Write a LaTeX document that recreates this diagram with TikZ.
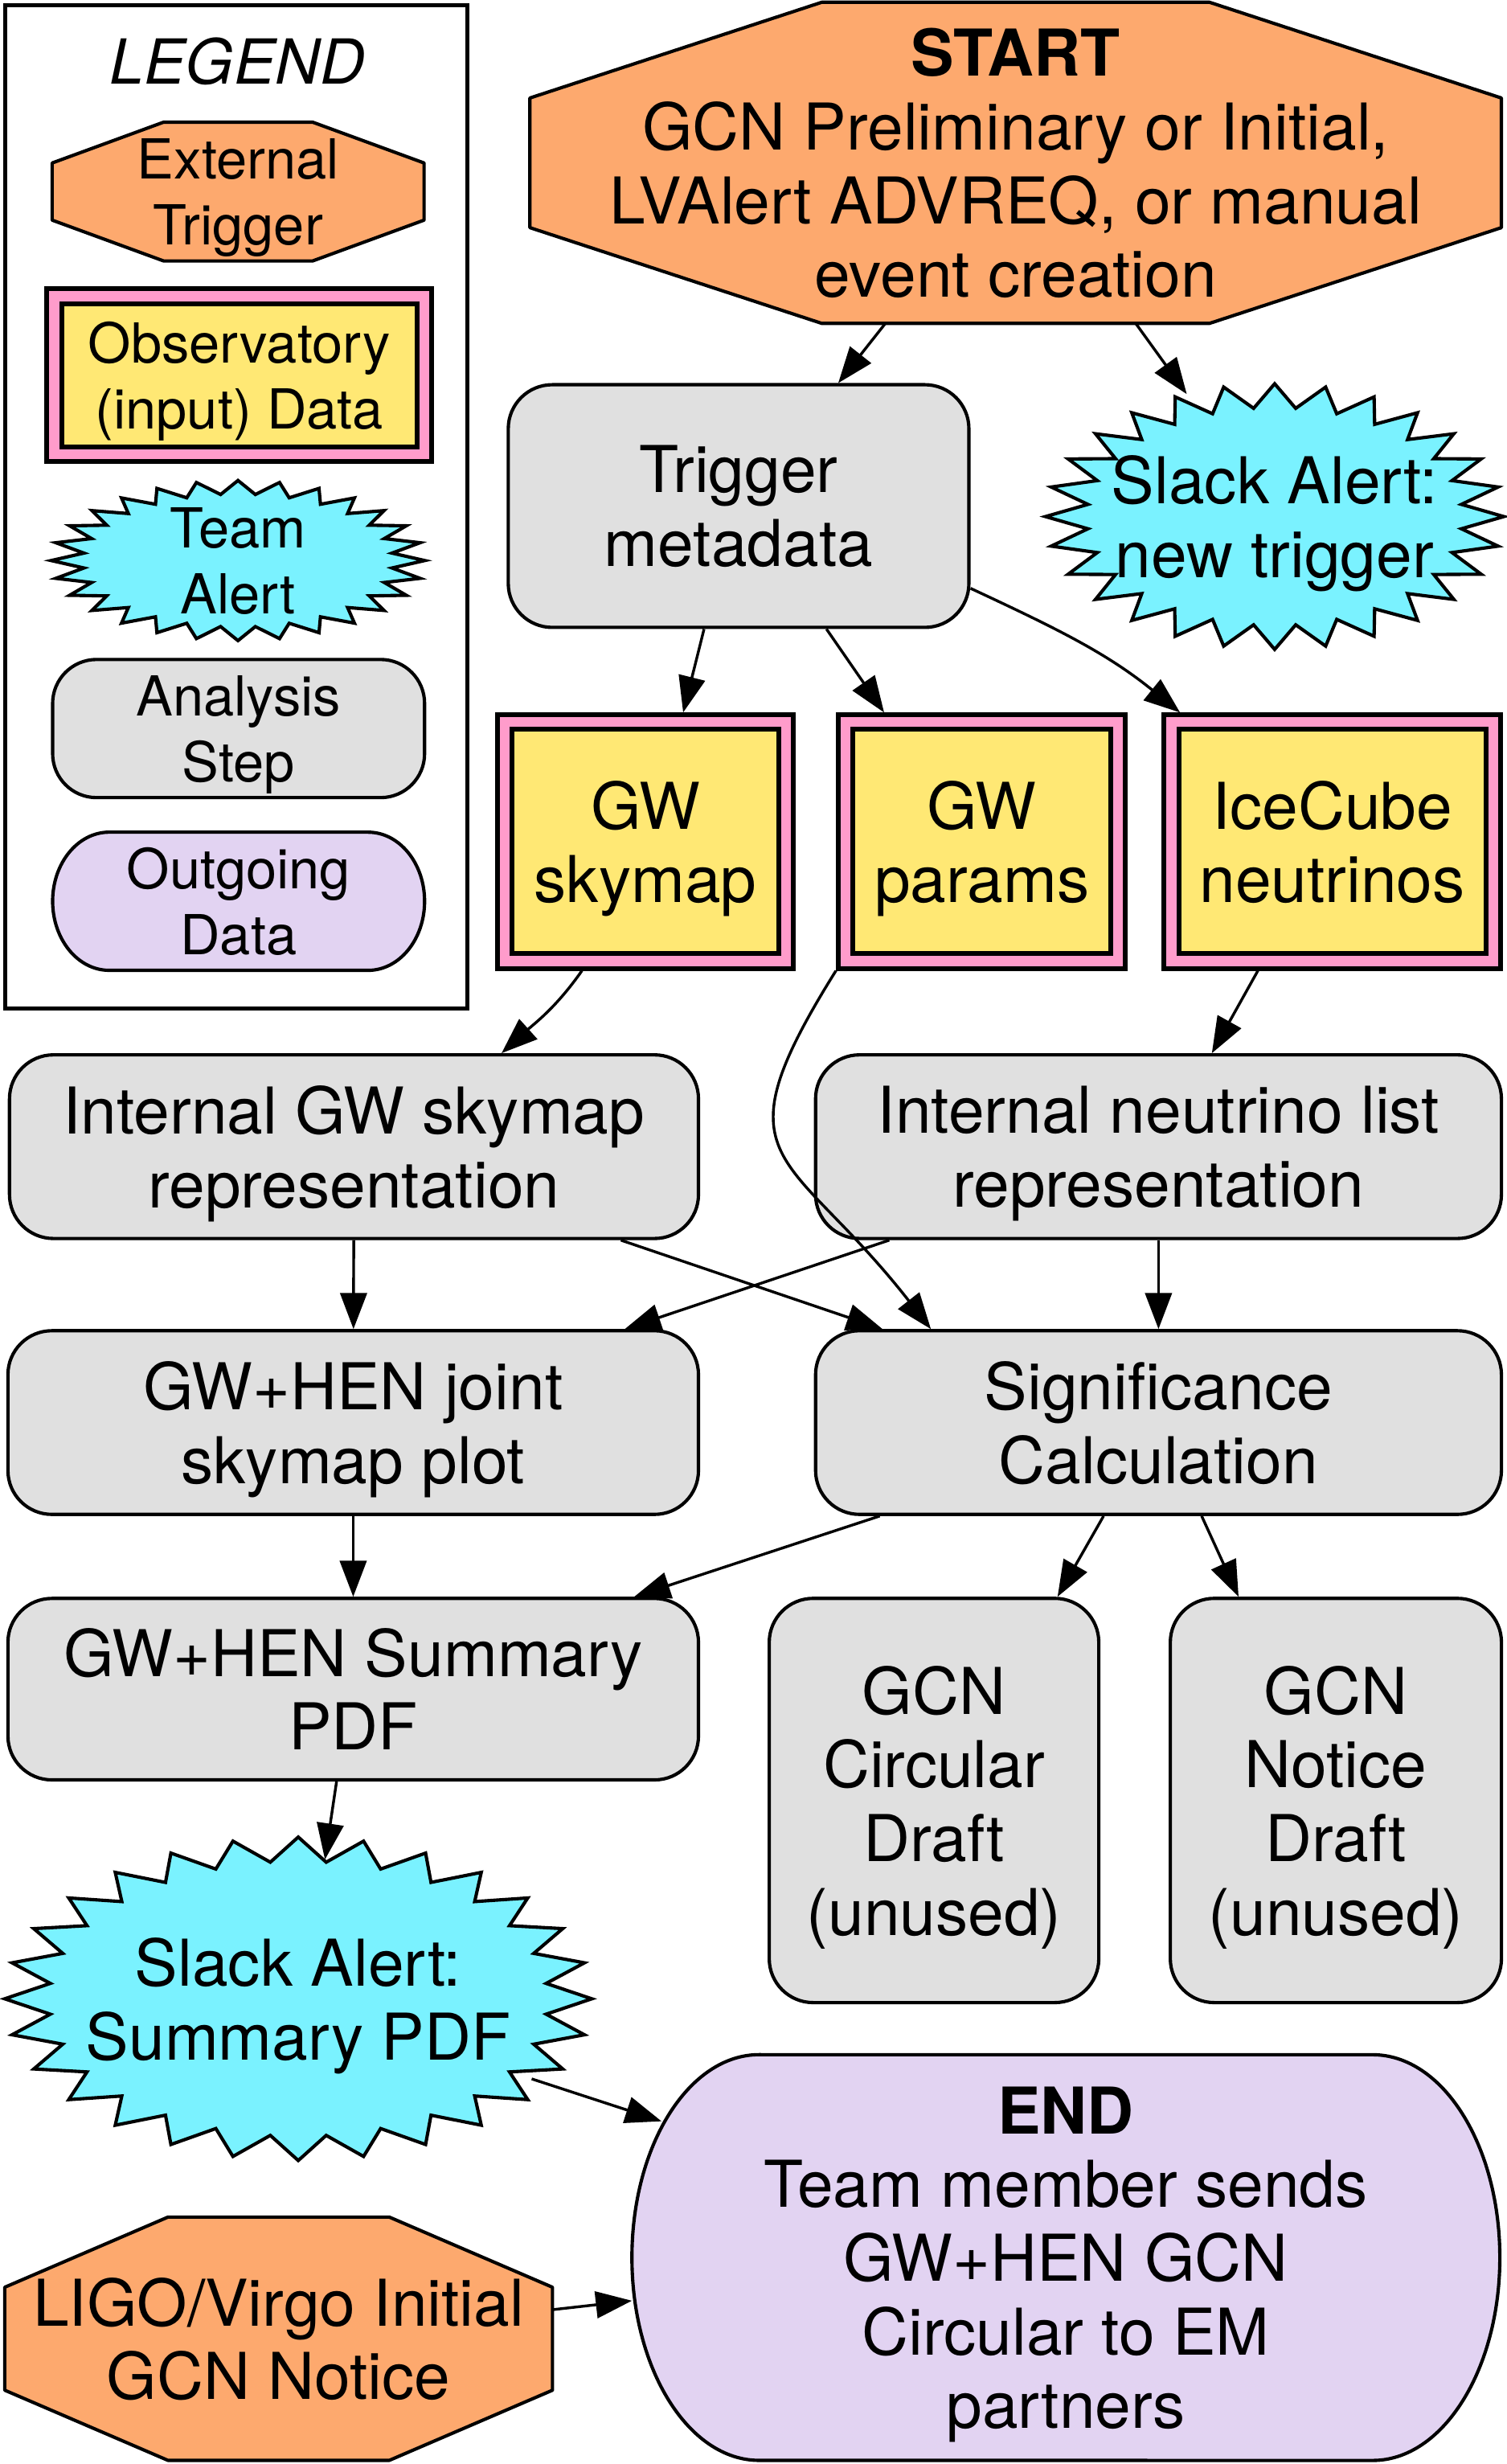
\documentclass[tikz,border=0pt]{standalone}
\usepackage{fontspec}
\setmainfont{TeX Gyre Heros}
\usepackage{tikz}
\usetikzlibrary{calc,positioning,arrows.meta,backgrounds}
\definecolor{trigorange}{HTML}{FDA96E}
\definecolor{obsyellow}{HTML}{FFE874}
\definecolor{obspink}{HTML}{FF9CCB}
\definecolor{alertcyan}{HTML}{7AF2FF}
\definecolor{stepgray}{HTML}{E0E0E0}
\definecolor{outlilac}{HTML}{E2D3F2}
% octagon behind a node: name, chamfer x, chamfer y
\newcommand{\octbg}[3]{%
  \path[trigshape] ($(#1.north west)+(#2,0)$) -- ($(#1.north east)+(-#2,0)$)
    -- ($(#1.north east)+(0,-#3)$) -- ($(#1.south east)+(0,#3)$)
    -- ($(#1.south east)+(-#2,0)$) -- ($(#1.south west)+(#2,0)$)
    -- ($(#1.south west)+(0,#3)$) -- ($(#1.north west)+(0,-#3)$) -- cycle;}
% burst behind a node: name, x radius, y radius, inner ratio
\newcommand{\burstbg}[4]{%
  \path[alertshape] ($(#1.center)+(90:#2 and #3)$)
    \foreach \k in {1,...,28} {
      -- ($(#1.center)+({90+(\k-0.5)*360/28}:{#4*#2} and {#4*#3})$)
      -- ($(#1.center)+({90+\k*360/28}:#2 and #3)$)
    } -- cycle;}
% pill behind a node: name, end x radius, end y radius
\newcommand{\pillbg}[3]{%
  \path[outshape] ($(#1.north west)+(#2,0)$) -- ($(#1.north east)+(-#2,0)$)
    arc[start angle=90,end angle=-90,x radius={#2*0.02cm},y radius={#3*0.02cm}]
    -- ($(#1.south west)+(#2,0)$)
    arc[start angle=270,end angle=90,x radius={#2*0.02cm},y radius={#3*0.02cm}]
    -- cycle;}
\begin{document}
\begin{tikzpicture}[
  x=0.02cm, y=0.02cm,
  every node/.style={align=center,inner sep=0pt,text depth=0pt,
   font=\fontsize{23.4}{26.7}\selectfont},
  small/.style={font=\fontsize{20}{23.9}\selectfont},
  trigger/.style={outer sep=0pt},
  trigshape/.style={draw,fill=trigorange,line width=1.2pt,line join=round},
  obsdata/.style={draw,fill=obsyellow,double=obspink,double distance=0.126cm,
   line width=1.75pt,outer sep=0.123cm},
  teamalert/.style={outer sep=0pt},
  alertshape/.style={draw,fill=alertcyan,line width=1.2pt},
  analysis/.style={draw,fill=stepgray,line width=1.2pt,rounded corners=0.56cm},
  outdata/.style={outer sep=0pt},
  outshape/.style={draw,fill=outlilac,line width=1.2pt},
  flow/.style={-{Triangle[length=4.6mm,width=3.4mm]},line width=1pt}
  ]
  \useasboundingbox (0,0) rectangle (960,-1569.3);

  % legend
  \node[draw,line width=1.5pt,minimum width=5.886cm,minimum height=12.78cm] (legend) at (150.55,-322.8) {};
  \node[font=\fontsize{22.5}{26}\selectfont] (lgtitle) at (151.2,-38.7) {\textit{LEGEND}};
  \node[trigger,small,minimum width=4.74cm,minimum height=1.768cm] (lgext) at (151.7,-122) {External\\Trigger};
  \node[obsdata,small,minimum width=4.714cm,minimum height=2.014cm] (lgobs) at (152.4,-239) {Observatory\\(input) Data};
  \node[teamalert,small] (lgalert) at (151.6,-357) {Team\\Alert};
  \node[analysis,small,minimum width=4.74cm,minimum height=1.76cm] (lgstep) at (152,-464) {Analysis\\Step};
  \node[outdata,small,minimum width=4.74cm,minimum height=1.76cm] (lgout) at (152,-574) {Outgoing\\Data};

  % flow
  \node[trigger,minimum width=12.38cm,minimum height=4.092cm] (start) at (647,-103.7)
   {\textbf{START}\\GCN Preliminary or Initial,\\LVAlert ADVREQ, or manual\\event creation};
  \node[analysis,minimum width=5.87cm,minimum height=3.092cm] (trig) at (470.5,-322.3) {Trigger\\metadata};
  \node[teamalert] (slackA) at (812,-329) {Slack Alert:\\new trigger};

  \node[obsdata,minimum width=3.584cm,minimum height=3.044cm] (sky) at (411.2,-536) {GW\\skymap};
  \node[obsdata,minimum width=3.474cm,minimum height=3.044cm] (par) at (625.5,-536) {GW\\params};
  \node[obsdata,minimum width=4.102cm,minimum height=3.044cm] (ice) at (848.7,-536) {IceCube\\neutrinos};

  \node[analysis,minimum width=8.78cm,minimum height=2.34cm] (intsky) at (225.5,-730.3) {Internal GW skymap\\representation};
  \node[analysis,minimum width=8.74cm,minimum height=2.34cm] (intnu) at (738,-730.3) {Internal neutrino list\\representation};
  \node[analysis,minimum width=8.8cm,minimum height=2.34cm] (joint) at (225,-906) {GW+HEN joint\\skymap plot};
  \node[analysis,minimum width=8.74cm,minimum height=2.34cm] (sig) at (738,-906) {Significance\\Calculation};
  \node[analysis,minimum width=8.8cm,minimum height=2.312cm] (pdf) at (225,-1075.8) {GW+HEN Summary\\PDF};
  \node[analysis,minimum width=4.2cm,minimum height=5.15cm] (circ) at (595,-1146.7) {GCN\\Circular\\Draft\\(unused)};
  \node[analysis,minimum width=4.22cm,minimum height=5.15cm] (notice) at (851,-1146.7) {GCN\\Notice\\Draft\\(unused)};

  \node[teamalert] (slackB) at (190,-1273) {Slack Alert:\\Summary PDF};
  \node[outdata,minimum width=11.06cm,minimum height=5.168cm] (finish) at (679,-1437.8)
   {\textbf{END}\\Team member sends\\GW+HEN GCN\\Circular to EM\\partners};
  \node[trigger,minimum width=6.98cm,minimum height=3.1cm] (ligo) at (177.5,-1489.5) {LIGO/Virgo Initial\\GCN Notice};

  \begin{scope}[on background layer]
   \octbg{lgext}{71}{26}
   \octbg{start}{186}{61}
   \octbg{ligo}{104}{44.7}
   \burstbg{lgalert}{119}{51}{0.83}
   \burstbg{slackA}{146}{84.6}{0.82}
   \burstbg{slackB}{187}{103}{0.85}
   \pillbg{lgout}{36}{44}
   \pillbg{finish}{81}{129.2}
  \end{scope}

  \draw[flow] ($(start.south)+(-83,0)$) -- ($(trig.north)+(63.5,0)$);
  \draw[flow] ($(start.south)+(76.5,0)$) -- ($(slackA.center)+(-56,78)$);
  \draw[flow] ($(trig.south)+(-22,0)$) -- ($(sky.north)+(24,0)$);
  \draw[flow] ($(trig.south)+(56,0)$) -- ($(par.north)+(-62.3,0)$);
  \draw[flow] ($(trig.east)+(0,-52.4)$) to[out=-25,in=141] ($(ice.north)+(-97,0)$);
  \draw[flow] ($(sky.south)+(-40.5,0)$) to[out=-125,in=42] ($(intsky.north)+(94,0)$);
  \draw[flow] ($(ice.south)+(-47.4,0)$) -- ($(intnu.north)+(34,0)$);
  \draw[flow] (intsky) -- (joint);
  \draw[flow] ($(intsky.south)+(170,0)$) -- ($(sig.north)+(-175.8,0)$);
  \draw[flow] ($(intnu.south)+(-171.5,0)$) -- ($(joint.north)+(173,0)$);
  \draw[flow] (intnu) -- (sig);
  \draw[flow] (par.south west) to[out=-122,in=128,looseness=1.6] ($(sig.north)+(-145,0)$);
  \draw[flow] (joint) -- (pdf);
  \draw[flow] ($(sig.south)+(-177.6,0)$) -- ($(pdf.north)+(179,0)$);
  \draw[flow] ($(sig.south)+(-35,0)$) -- ($(circ.north)+(78.7,0)$);
  \draw[flow] ($(sig.south)+(27.5,0)$) -- ($(notice.north)+(-62,0)$);
  \draw[flow] ($(pdf.south)+(-10.6,0)$) -- ($(slackB.center)+(17,88.7)$);
  \draw[flow] ($(slackB.center)+(148.7,-51)$) -- ($(finish.center)+(-257.6,86.8)$);
  \draw[flow] ($(ligo.east)+(0,18.5)$) -- ($(finish.west)+(0,-27.5)$);
\end{tikzpicture}
\end{document}
